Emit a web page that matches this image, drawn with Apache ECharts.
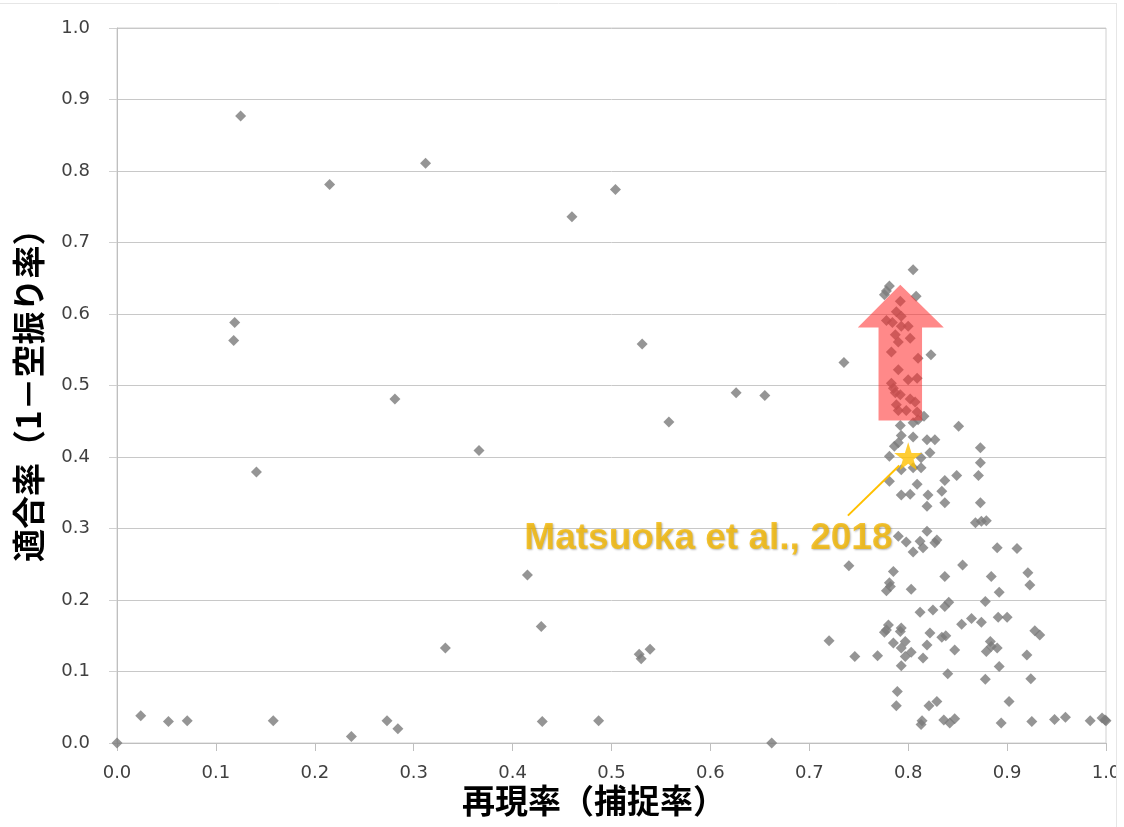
<!DOCTYPE html>
<html>
<head>
<meta charset="utf-8">
<script src="https://cdn.jsdelivr.net/npm/echarts@6/dist/echarts.min.js"></script>
<style>html,body{margin:0;padding:0;background:#fff;}#c{width:1124px;height:827px;}</style>
</head>
<body>
<div id="c"></div>
<script>
// Tick labels
const xTicks = ['0.0','0.1','0.2','0.3','0.4','0.5','0.6','0.7','0.8','0.9','1.0'];
const yTicks = ['0.0','0.1','0.2','0.3','0.4','0.5','0.6','0.7','0.8','0.9','1.0'];
const xTitle = '再現率（捕捉率）';
const yTitle = '適合率（1－空振り率）';

// Scatter points [recall, precision]
const pointsOuter = [[0,0],[0.024,0.038],[0.052,0.030],[0.071,0.031],[0.125,0.877],[0.119,0.588],[0.118,0.563],[0.141,0.379],[0.158,0.031],[0.215,0.781],[0.237,0.009],[0.273,0.031],[0.281,0.481],[0.284,0.020],[0.312,0.811],[0.332,0.133],[0.366,0.409],[0.415,0.235],[0.429,0.163],[0.430,0.030],[0.460,0.736],[0.487,0.031],[0.504,0.774],[0.531,0.558],[0.528,0.124],[0.530,0.118],[0.539,0.131],[0.558,0.449],[0.626,0.490],[0.655,0.486],[0.662,0.000],[0.720,0.143],[0.735,0.532],[0.740,0.248],[0.746,0.121],[0.769,0.122]];
const pointsTop = [[0.805,0.662],[0.781,0.639],[0.778,0.632],[0.776,0.627],[0.808,0.625],[0.792,0.618],[0.788,0.603],[0.793,0.597],[0.778,0.591],[0.784,0.588],[0.793,0.583],[0.800,0.583],[0.787,0.571],[0.802,0.566],[0.790,0.561],[0.783,0.547],[0.810,0.538],[0.823,0.543],[0.790,0.522],[0.800,0.508],[0.809,0.510],[0.783,0.503],[0.785,0.496],[0.787,0.490],[0.792,0.487],[0.802,0.481],[0.807,0.477],[0.788,0.473],[0.790,0.465],[0.798,0.465],[0.809,0.463],[0.816,0.457],[0.810,0.452]];
const pointsMid = [[0.792,0.444],[0.805,0.448],[0.851,0.443],[0.793,0.430],[0.805,0.428],[0.790,0.420],[0.786,0.415],[0.819,0.424],[0.827,0.424],[0.873,0.413],[0.781,0.401],[0.822,0.406],[0.813,0.399],[0.873,0.392],[0.793,0.382],[0.805,0.385],[0.813,0.385],[0.871,0.374],[0.849,0.374],[0.781,0.366],[0.809,0.362],[0.837,0.367],[0.793,0.347],[0.802,0.348],[0.820,0.347],[0.834,0.352],[0.819,0.331],[0.837,0.336],[0.873,0.336],[0.868,0.308],[0.874,0.310],[0.879,0.311],[0.790,0.289],[0.798,0.281],[0.805,0.267],[0.812,0.282],[0.815,0.273],[0.819,0.296],[0.827,0.280],[0.829,0.284],[0.890,0.273],[0.910,0.272]];
const pointsLow = [[0.785,0.240],[0.781,0.224],[0.782,0.219],[0.778,0.213],[0.803,0.215],[0.855,0.249],[0.837,0.233],[0.884,0.233],[0.921,0.238],[0.923,0.221],[0.892,0.211],[0.841,0.197],[0.837,0.191],[0.878,0.198],[0.812,0.183],[0.825,0.186],[0.864,0.174],[0.854,0.166],[0.874,0.169],[0.891,0.176],[0.900,0.176],[0.780,0.165],[0.778,0.158],[0.776,0.155],[0.793,0.161],[0.792,0.156],[0.822,0.154],[0.834,0.148],[0.838,0.150],[0.928,0.157],[0.933,0.151],[0.785,0.140],[0.797,0.142],[0.793,0.133],[0.819,0.137],[0.847,0.130],[0.883,0.142],[0.884,0.135],[0.890,0.133],[0.879,0.128],[0.803,0.127],[0.797,0.121],[0.815,0.119],[0.920,0.123],[0.793,0.108],[0.892,0.107],[0.840,0.097],[0.878,0.089],[0.924,0.090],[0.789,0.072],[0.788,0.052],[0.821,0.052],[0.829,0.058],[0.902,0.058],[0.814,0.031],[0.813,0.026],[0.836,0.032],[0.842,0.028],[0.847,0.034],[0.894,0.028],[0.925,0.030],[0.948,0.033],[0.959,0.036],[0.984,0.031],[0.996,0.035],[0.999,0.032],[1.0,0.031]];

// Highlighted study
const starPoint = [[0.800, 0.401]];
const starLabel = 'Matsuoka et al., 2018';
const labelAnchor = [[0.598, 0.286]];
const leaderLine = [[0.739, 0.318], [0.791, 0.388]];

// Up arrow outline (data coordinates)
const arrowShape = [[0.770,0.451],[0.814,0.451],[0.814,0.581],[0.836,0.581],[0.792,0.641],[0.749,0.581],[0.770,0.581]];

const allPoints = pointsOuter.concat(pointsTop, pointsMid, pointsLow);

const chart = echarts.init(document.getElementById('c'), null, {renderer:'canvas'});
const tickFont = {fontFamily:'DejaVu Sans', fontSize:18, color:'#404040'};
chart.setOption({
  animation:false,
  backgroundColor:'#fff',
  grid:{left:117, right:18, top:28, bottom:84, show:true, borderColor:'#d0d0d0', borderWidth:1},
  xAxis:{type:'value', min:0, max:1, interval:0.1,
    axisLine:{show:true, lineStyle:{color:'#bfbfbf'}},
    axisTick:{show:true, length:8, lineStyle:{color:'#bfbfbf'}},
    splitLine:{show:false},
    axisLabel:Object.assign({margin:21, formatter:(v)=>xTicks[Math.round(v*10)]}, tickFont)},
  yAxis:{type:'value', min:0, max:1, interval:0.1,
    axisLine:{show:true, lineStyle:{color:'#bfbfbf'}},
    axisTick:{show:true, length:8, lineStyle:{color:'#d0d0d0'}},
    splitLine:{show:true, lineStyle:{color:'#c8c8c8'}},
    axisLabel:Object.assign({margin:27, formatter:(v)=>yTicks[Math.round(v*10)]}, tickFont)},
  series:[
    {type:'scatter', data:allPoints, symbol:'diamond', symbolSize:11, itemStyle:{color:'#7a7a7a'}, z:2,
     markLine:{silent:true, symbol:'none', animation:false, label:{show:false},
       lineStyle:{color:'#FFC000', width:2, type:'solid'},
       data:[[{coord:leaderLine[0]},{coord:leaderLine[1]}]]}},
    {type:'custom', data:[0], z:5, renderItem:(params, api)=>{
        const pts = arrowShape.map(p=>api.coord(p));
        return {type:'polygon', shape:{points:pts}, style:{fill:'rgba(255,40,40,0.55)'}};
      }},
    {type:'scatter', data:starPoint, symbol:'path://M50,0 L61.8,36.2 L100,36.2 L69.1,58.6 L80.9,95.1 L50,72.7 L19.1,95.1 L30.9,58.6 L0,36.2 L38.2,36.2 Z',
     symbolSize:28, itemStyle:{color:'#FFC000'}, z:6},
    {type:'scatter', data:labelAnchor, symbolSize:1, itemStyle:{color:'rgba(0,0,0,0)'}, z:7,
     label:{show:true, position:'inside', formatter:starLabel, color:'#F5B800',
       fontFamily:'Liberation Sans', fontWeight:'bold', fontSize:37,
       textShadowColor:'rgba(0,0,0,0.35)', textShadowBlur:2, textShadowOffsetX:1, textShadowOffsetY:1}}
  ],
  graphic:[
    {type:'text', left:462, top:784, style:{text:xTitle, font:'bold 33px "Noto Sans CJK JP"', fill:'#000'}},
    {type:'text', x:12, y:562, rotation:Math.PI/2, style:{text:yTitle, font:'bold 33px "Noto Sans CJK JP"', fill:'#000'}},
    {type:'rect', shape:{x:1117, y:0, width:7, height:827}, style:{fill:'#fff'}, z:100},
    {type:'line', shape:{x1:1116.5, y1:3, x2:1116.5, y2:827}, style:{stroke:'#e6e6e6', lineWidth:1}, z:101},
    {type:'line', shape:{x1:0, y1:3.5, x2:1117, y2:3.5}, style:{stroke:'#e6e6e6', lineWidth:1}, z:101}
  ]
});
</script>
</body>
</html>
